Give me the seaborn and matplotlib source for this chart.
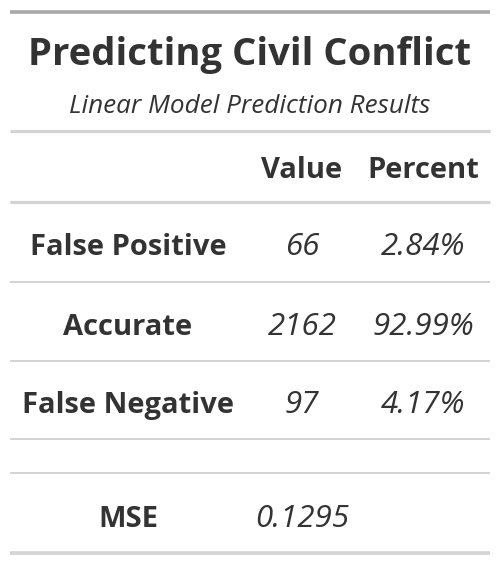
import matplotlib
matplotlib.use("Agg")
import matplotlib.pyplot as plt
import seaborn as sns

# table content
title = "Predicting Civil Conflict"
subtitle = "Linear Model Prediction Results"
col_labels = ["Value", "Percent"]
row_labels = ["False Positive", "Accurate", "False Negative"]
values = ["66", "2162", "97"]
percents = ["2.84%", "92.99%", "4.17%"]
mse_label = "MSE"
mse_value = "0.1295"

sns.set_theme(style="white")
plt.rcParams["font.family"] = ["Open Sans", "DejaVu Sans"]

TXT = "#333333"
BOLD = "bold"
fig = plt.figure(figsize=(5.0, 5.66), dpi=100)
ax = fig.add_axes([0, 0, 1, 1])
ax.set_xlim(0, 500)
ax.set_ylim(566, 0)
ax.axis("off")

x0, x1 = 10, 490
xc_lab, xc_val, xc_pct = 128, 302, 423

# rules
ax.hlines(12, x0, x1, color="#A8A8A8", lw=2.6)
ax.hlines([131, 202], x0, x1, color="#D3D3D3", lw=2.3)
ax.hlines([282, 361, 439, 473], x0, x1, color="#D3D3D3", lw=1.4)
ax.hlines(553, x0, x1, color="#D3D3D3", lw=2.6)

# heading
ax.text(250, 65, title, ha="center", va="baseline", fontsize=27.5,
        fontweight=BOLD, color=TXT)
ax.text(250, 113, subtitle, ha="center", va="baseline", fontsize=18.8,
        style="italic", color=TXT)

# column labels
ax.text(xc_val, 178, col_labels[0], ha="center", va="baseline", fontsize=21,
        fontweight=BOLD, color=TXT)
ax.text(xc_pct, 178, col_labels[1], ha="center", va="baseline", fontsize=21,
        fontweight=BOLD, color=TXT)

# body rows
baselines = [255, 335, 413]
for yb, lab, v, p in zip(baselines, row_labels, values, percents):
    ax.text(xc_lab, yb, lab, ha="center", va="baseline", fontsize=21,
            fontweight=BOLD, color=TXT)
    ax.text(xc_val, yb, v, ha="center", va="baseline", fontsize=22.5,
            style="italic", color=TXT)
    ax.text(xc_pct, yb, p, ha="center", va="baseline", fontsize=22.5,
            style="italic", color=TXT)

ax.text(xc_lab, 527, mse_label, ha="center", va="baseline", fontsize=21,
        fontweight=BOLD, color=TXT)
ax.text(xc_val, 527, mse_value, ha="center", va="baseline", fontsize=22.5,
        style="italic", color=TXT)

fig.savefig("out.png", dpi=100)
